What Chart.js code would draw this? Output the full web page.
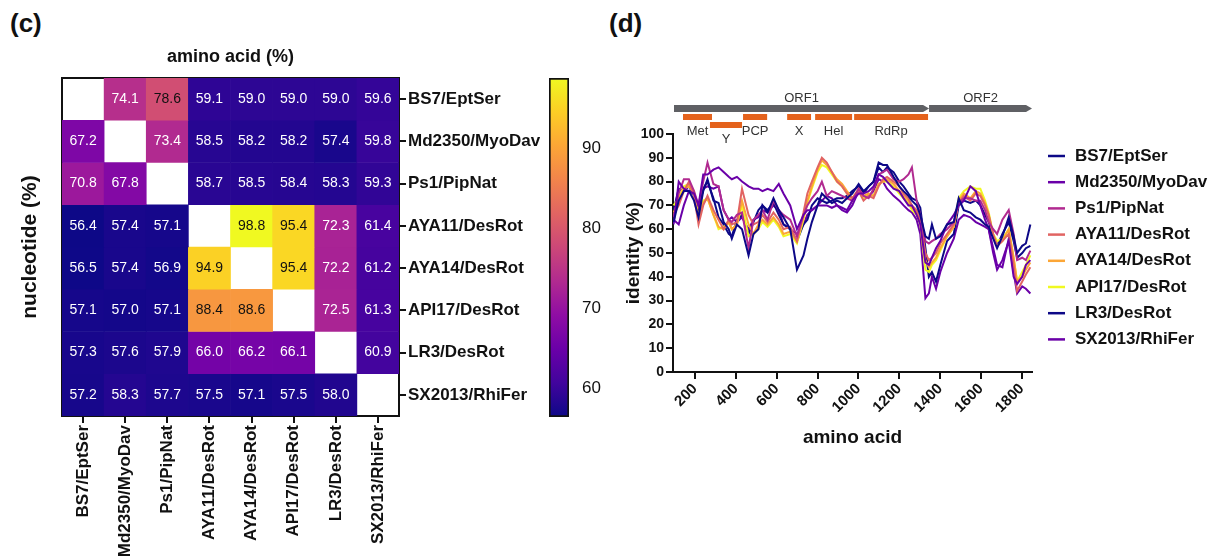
<!DOCTYPE html>
<html lang="en">
<head>
<meta charset="UTF-8" />
<title>Pairwise identity and similarity plot</title>
<script src="https://cdn.jsdelivr.net/npm/chart.js"></script>
<style>
  body { margin: 0; background: #fff; font-family: 'Liberation Sans', Arial, sans-serif; }
  #wrap { position: relative; width: 1214px; height: 556px; overflow: hidden; }
  canvas { position: absolute; top: 0; }
  .panel { position: absolute; top: 8px; font-weight: bold; font-size: 26px; color: #111; }
</style>
</head>
<body>
<div id="wrap">
  <div class="panel" style="left:10px">(c)</div>
  <div class="panel" style="left:609px">(d)</div>
  <canvas id="heat" width="540" height="556" style="left:0"></canvas>
  <canvas id="scale" width="80" height="556" style="left:540px"></canvas>
  <canvas id="lines" width="614" height="556" style="left:600px"></canvas>
</div>
<script>
  // ---- panel (c): identity matrix, upper triangle amino acid, lower triangle nucleotide
  const strains = ['BS7/EptSer', 'Md2350/MyoDav', 'Ps1/PipNat', 'AYA11/DesRot',
                   'AYA14/DesRot', 'API17/DesRot', 'LR3/DesRot', 'SX2013/RhiFer'];
  const identity = [
    [null, 74.1, 78.6, 59.1, 59.0, 59.0, 59.0, 59.6],
    [67.2, null, 73.4, 58.5, 58.2, 58.2, 57.4, 59.8],
    [70.8, 67.8, null, 58.7, 58.5, 58.4, 58.3, 59.3],
    [56.4, 57.4, 57.1, null, 98.8, 95.4, 72.3, 61.4],
    [56.5, 57.4, 56.9, 94.9, null, 95.4, 72.2, 61.2],
    [57.1, 57.0, 57.1, 88.4, 88.6, null, 72.5, 61.3],
    [57.3, 57.6, 57.9, 66.0, 66.2, 66.1, null, 60.9],
    [57.2, 58.3, 57.7, 57.5, 57.1, 57.5, 58.0, null]
  ];
  const colorTicks = [60, 70, 80, 90];

  // ---- panel (d): sliding-window identity along the polyprotein
  const aaPos = [95, 120, 145, 170, 195, 217, 240, 261, 290, 315,
                 340, 365, 380, 405, 430, 462, 486, 510, 530, 555,
                 584, 610, 633, 666, 699, 731, 750, 772, 800, 821,
                 845, 870, 895, 920, 944, 970, 1001, 1025, 1050, 1074,
                 1099, 1120, 1140, 1172, 1200, 1221, 1245, 1262, 1285, 1303,
                 1328, 1345, 1360, 1380, 1401, 1434, 1467, 1491, 1516, 1548,
                 1575, 1597, 1620, 1638, 1660, 1679, 1705, 1736, 1760, 1777,
                 1802, 1820, 1842];
  const idBS7 = [63, 72, 76, 76, 72, 65, 76, 81, 72, 71,
                 63, 60, 56, 62, 60, 49, 58, 60, 70, 67,
                 73, 68, 65, 60, 43, 49, 56, 63, 70, 75,
                 73, 71, 72, 71, 73, 75, 79, 76, 78, 80,
                 88, 87, 87, 82, 78, 76, 74, 72, 70, 66,
                 57, 56, 62, 56, 57, 62, 63, 73, 68, 67,
                 65, 64, 62, 61, 56, 52, 57, 65, 57, 50,
                 53, 54, 62];
  const idMd2350 = [62, 80, 77, 76, 75, 70, 83, 83, 85, 86,
                    84, 82, 81, 82, 80, 78, 77, 77, 76, 77,
                    76, 79, 75, 70, 60, 66, 68, 68, 70, 70,
                    70, 69, 70, 69, 68, 72, 75, 75, 76, 78,
                    83, 82, 80, 77, 76, 73, 70, 70, 66, 62,
                    46, 45, 48, 52, 55, 62, 66, 70, 72, 78,
                    76, 70, 64, 60, 50, 43, 47, 55, 40, 37,
                    40, 45, 47];
  const idPs1 = [65, 75, 81, 81, 76, 70, 80, 88, 79, 78,
                 68, 64, 63, 66, 67, 52, 64, 66, 68, 64,
                 72, 68, 66, 64, 57, 66, 70, 73, 76, 80,
                 74, 76, 75, 74, 73, 72, 77, 74, 73, 77,
                 83, 84, 85, 81, 80, 81, 83, 86, 72, 66,
                 55, 54, 55, 56, 58, 60, 63, 71, 73, 73,
                 72, 72, 68, 63, 60, 58, 64, 68, 58, 47,
                 48, 47, 51];
  const idAYA11 = [66, 70, 76, 80, 74, 62, 70, 74, 68, 64,
                   60, 64, 62, 63, 77, 66, 62, 63, 66, 63,
                   67, 64, 60, 61, 55, 67, 75, 80, 86, 90,
                   88, 84, 80, 78, 75, 73, 76, 72, 74, 73,
                   78, 81, 82, 80, 78, 75, 73, 70, 68, 64,
                   50, 47, 48, 50, 54, 58, 62, 71, 74, 72,
                   75, 74, 70, 66, 58, 53, 55, 58, 45, 34,
                   38, 41, 44];
  const idAYA14 = [67, 72, 77, 78, 75, 64, 71, 73, 66, 61,
                   60, 63, 60, 62, 72, 62, 58, 62, 64, 62,
                   65, 62, 58, 59, 55, 65, 72, 78, 85, 89,
                   87, 84, 81, 79, 76, 73, 77, 74, 75, 74,
                   79, 80, 81, 79, 76, 74, 72, 69, 67, 63,
                   47, 44, 46, 48, 52, 57, 61, 72, 75, 73,
                   76, 75, 71, 66, 57, 53, 55, 60, 48, 38,
                   40, 43, 46];
  const idAPI17 = [70, 73, 78, 79, 76, 65, 72, 73, 66, 60,
                   61, 63, 60, 62, 70, 57, 58, 60, 63, 61,
                   64, 61, 57, 58, 54, 64, 71, 77, 84, 87,
                   86, 83, 80, 78, 75, 72, 76, 73, 75, 74,
                   79, 80, 80, 78, 75, 73, 71, 68, 66, 62,
                   43, 42, 45, 47, 51, 57, 61, 73, 76, 78,
                   77, 77, 72, 67, 58, 55, 56, 60, 48, 38,
                   42, 45, 49];
  const idLR3 = [68, 77, 76, 78, 74, 68, 77, 80, 73, 65,
                 62, 58, 57, 64, 66, 58, 63, 68, 70, 68,
                 71, 66, 62, 60, 55, 62, 64, 70, 73, 72,
                 71, 72, 73, 73, 74, 76, 78, 75, 78, 80,
                 86, 84, 86, 84, 80, 78, 75, 73, 72, 69,
                 52, 40, 42, 38, 45, 55, 58, 70, 72, 71,
                 72, 70, 66, 63, 57, 53, 58, 63, 55, 48,
                 50, 52, 53];
  const idSX2013 = [64, 62, 70, 76, 75, 68, 77, 78, 77, 78,
                    68, 64, 65, 63, 65, 60, 64, 65, 68, 67,
                    70, 68, 62, 60, 58, 62, 66, 68, 70, 72,
                    74, 73, 70, 68, 67, 70, 76, 74, 74, 76,
                    81, 80, 77, 74, 72, 70, 68, 67, 64, 58,
                    31, 33, 40, 35, 42, 50, 56, 64, 66, 65,
                    63, 62, 61, 60, 52, 45, 44, 56, 42, 33,
                    36, 35, 33];
  const aaTicks = [200, 400, 600, 800, 1000, 1200, 1400, 1600, 1800];

  // genome map above the plot (amino acid coordinates)
  const orfNames = ['ORF1', 'ORF2'];
  const orfStart = [97, 1346];
  const orfEnd = [1346, 1850];
  const domainNames = ['Met', 'Y', 'PCP', 'X', 'Hel', 'RdRp'];
  const domainStart = [141, 273, 435, 651, 788, 979];
  const domainEnd = [283, 430, 553, 768, 969, 1341];

  const FONT = '"Liberation Sans", Arial, sans-serif';
  Chart.defaults.font.family = FONT;
  Chart.defaults.color = '#111';

  const plasma = ['#0d0887', '#41049d', '#6a00a8', '#8f0da4', '#b12a90', '#cc4778',
                  '#e16462', '#f2844b', '#fca636', '#fcce25', '#f0f921'];
  const hexRgb = h => [1, 3, 5].map(i => parseInt(h.slice(i, i + 2), 16));
  function plasmaAt(t) {
    t = Math.min(1, Math.max(0, t));
    const p = t * 10, i = Math.min(9, Math.floor(p)), f = p - i;
    const a = hexRgb(plasma[i]), b = hexRgb(plasma[i + 1]);
    return 'rgb(' + a.map((v, k) => Math.round(v + (b[k] - v) * f)).join(',') + ')';
  }

  const allCells = identity.flat().filter(v => v !== null);
  const cMin = Math.min(...allCells), cMax = Math.max(...allCells);
  const cellColor = v => v === null ? 'rgba(0,0,0,0)' : plasmaAt((v - cMin) / (cMax - cMin));

  const axisLine = { color: '#111', width: 2 };
  const tickMarks = { display: true, drawOnChartArea: false, color: '#111', lineWidth: 2, tickLength: 7 };

  const cellText = {
    id: 'cellText',
    afterDatasetsDraw(chart) {
      const ctx = chart.ctx;
      ctx.save();
      ctx.font = '14px ' + FONT;
      ctx.textAlign = 'center';
      ctx.textBaseline = 'middle';
      chart.data.datasets.forEach((ds, r) => {
        chart.getDatasetMeta(r).data.forEach((bar, c) => {
          const v = identity[r][c];
          if (v === null) return;
          const { x, y, base } = bar.getProps(['x', 'y', 'base'], true);
          ctx.fillStyle = v > 76 ? '#111' : '#fff';
          ctx.fillText(v.toFixed(1), x, (y + base) / 2);
        });
      });
      ctx.restore();
    }
  };

  new Chart(document.getElementById('heat'), {
    type: 'bar',
    data: {
      labels: strains,
      datasets: identity.map((row, r) => ({
        label: strains[r],
        data: row.map(v => v === null ? null : [r, r + 1]),
        backgroundColor: row.map(cellColor),
        borderWidth: 0,
        grouped: false,
        categoryPercentage: 1,
        barPercentage: 1
      }))
    },
    options: {
      responsive: false,
      animation: false,
      layout: { padding: 0 },
      plugins: { legend: { display: false }, tooltip: { enabled: false } },
      scales: {
        x: {
          position: 'bottom',
          grid: Object.assign({ offset: false }, tickMarks),
          border: axisLine,
          ticks: { minRotation: 90, maxRotation: 90, autoSkip: false, padding: 2,
                   font: { size: 17, weight: 'bold' } },
          afterFit: s => { s.height = 140; }
        },
        xt: {
          type: 'linear', position: 'top',
          ticks: { display: false }, grid: { display: false }, border: axisLine,
          title: { display: true, text: 'amino acid (%)', font: { size: 18, weight: 'bold' },
                   padding: { top: 46, bottom: 0 } },
          afterFit: s => { s.height = 78; }
        },
        y: {
          type: 'linear', position: 'right', min: 0, max: strains.length, reverse: true,
          afterBuildTicks: s => { s.ticks = strains.map((_, i) => ({ value: i + 0.5 })); },
          ticks: { autoSkip: false, padding: 2, font: { size: 17, weight: 'bold' },
                   callback: v => strains[Math.floor(v)] },
          grid: tickMarks,
          border: axisLine,
          afterFit: s => { s.width = 141; }
        },
        yl: {
          type: 'linear', position: 'left',
          ticks: { display: false }, grid: { display: false }, border: axisLine,
          title: { display: true, text: 'nucleotide (%)', font: { size: 21, weight: 'bold' },
                   padding: { top: 18, bottom: 0 } },
          afterFit: s => { s.width = 62; }
        }
      }
    },
    plugins: [cellText]
  });

  // colour scale
  new Chart(document.getElementById('scale'), {
    type: 'bar',
    data: {
      labels: [''],
      datasets: [{
        data: [[cMin, cMax]],
        backgroundColor: ctx => {
          const area = ctx.chart.chartArea;
          if (!area) return '#888';
          const g = ctx.chart.ctx.createLinearGradient(0, area.bottom, 0, area.top);
          plasma.forEach((c, i) => g.addColorStop(i / 10, c));
          return g;
        },
        borderColor: '#111',
        borderWidth: 2,
        borderSkipped: false,
        categoryPercentage: 1,
        barPercentage: 1
      }]
    },
    options: {
      responsive: false,
      animation: false,
      layout: { padding: { left: 9, top: 78, bottom: 139, right: 0 } },
      plugins: { legend: { display: false }, tooltip: { enabled: false } },
      scales: {
        x: { display: false },
        y: {
          position: 'right', min: cMin, max: cMax,
          afterBuildTicks: s => { s.ticks = colorTicks.map(v => ({ value: v })); },
          grid: { display: false }, border: { display: false },
          ticks: { padding: 5, font: { size: 17 } },
          afterFit: s => { s.width = 51; }
        }
      }
    }
  });

  // ---- panel (d)
  const series = [
    ['BS7/EptSer', idBS7, '#0d0887'],
    ['Md2350/MyoDav', idMd2350, '#6a00a8'],
    ['Ps1/PipNat', idPs1, '#b12a90'],
    ['AYA11/DesRot', idAYA11, '#e16462'],
    ['AYA14/DesRot', idAYA14, '#fca636'],
    ['API17/DesRot', idAPI17, '#f0f921'],
    ['LR3/DesRot', idLR3, '#0d0887'],
    ['SX2013/RhiFer', idSX2013, '#6a00a8']
  ];

  const genomeMap = {
    id: 'genomeMap',
    afterDraw(chart) {
      const xs = chart.scales.x, ctx = chart.ctx;
      const px = v => xs.getPixelForValue(Math.min(v, xs.max));
      ctx.save();
      ctx.font = '13px ' + FONT;
      ctx.textAlign = 'center';
      ctx.textBaseline = 'middle';
      orfNames.forEach((name, i) => {
        const x0 = px(orfStart[i]), x1 = px(orfEnd[i]);
        ctx.fillStyle = '#5f6064';
        ctx.beginPath();
        ctx.moveTo(x0, 105); ctx.lineTo(x1 - 6, 105); ctx.lineTo(x1, 108.5);
        ctx.lineTo(x1 - 6, 112); ctx.lineTo(x0, 112); ctx.closePath();
        ctx.fill();
        ctx.fillStyle = '#333';
        ctx.fillText(name, (x0 + x1) / 2, 98);
      });
      let laneEnd = -Infinity;
      domainNames.forEach((name, i) => {
        const lane = domainStart[i] < laneEnd ? 1 : 0;
        if (!lane) laneEnd = domainEnd[i];
        const x0 = px(domainStart[i]), x1 = px(domainEnd[i]);
        ctx.fillStyle = '#e4621c';
        ctx.fillRect(x0, lane ? 122 : 114, x1 - x0, 6);
        ctx.fillStyle = '#333';
        ctx.fillText(name, (x0 + x1) / 2, lane ? 139 : 131);
      });
      ctx.restore();
    }
  };

  const sideLegend = {
    id: 'sideLegend',
    afterDraw(chart) {
      const ctx = chart.ctx, left = chart.chartArea.right + 16;
      ctx.save();
      ctx.font = 'bold 17px ' + FONT;
      ctx.textBaseline = 'middle';
      chart.data.datasets.forEach((ds, i) => {
        const y = 156 + i * 26.2;
        ctx.strokeStyle = ds.borderColor;
        ctx.lineWidth = 2.5;
        ctx.beginPath(); ctx.moveTo(left, y); ctx.lineTo(left + 17, y); ctx.stroke();
        ctx.fillStyle = '#111';
        ctx.fillText(ds.label, left + 27, y);
      });
      ctx.restore();
    }
  };

  new Chart(document.getElementById('lines'), {
    type: 'line',
    data: {
      datasets: series.map(([name, vals, color]) => ({
        label: name,
        data: vals.map((v, i) => ({ x: aaPos[i], y: v })),
        borderColor: color,
        backgroundColor: color,
        borderWidth: 2,
        pointRadius: 0,
        tension: 0,
        fill: false
      }))
    },
    options: {
      responsive: false,
      animation: false,
      layout: { padding: { left: 0, top: 134, right: 182, bottom: 107 } },
      plugins: { legend: { display: false }, tooltip: { enabled: false } },
      scales: {
        x: {
          type: 'linear', min: 92, max: 1850,
          afterBuildTicks: s => { s.ticks = aaTicks.map(v => ({ value: v })); },
          ticks: { minRotation: 45, maxRotation: 45, autoSkip: false, padding: 1,
                   font: { size: 15, weight: 'bold' }, callback: v => String(v) },
          grid: tickMarks,
          border: axisLine,
          title: { display: true, text: 'amino acid', font: { size: 19, weight: 'bold' },
                   padding: { top: 0, bottom: 0 } },
          afterFit: s => { s.height = 77; }
        },
        y: {
          min: 0, max: 100,
          ticks: { stepSize: 10, padding: 2, font: { size: 14, weight: 'bold' } },
          grid: tickMarks,
          border: axisLine,
          title: { display: true, text: 'identity (%)', font: { size: 19, weight: 'bold' },
                   padding: { top: 22, bottom: 0 } },
          afterFit: s => { s.width = 73; }
        }
      }
    },
    plugins: [genomeMap, sideLegend]
  });
</script>
</body>
</html>
